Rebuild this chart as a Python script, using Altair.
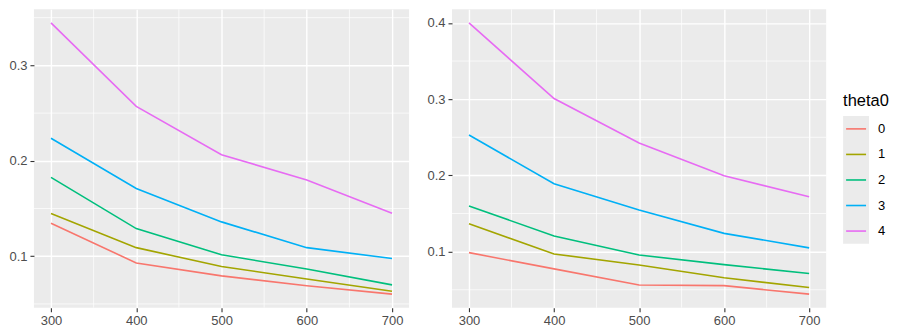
import altair as alt
import pandas as pd

n_values = [300, 400, 500, 600, 700]
theta0_levels = ["0", "1", "2", "3", "4"]
colors = ["#F8766D", "#A3A500", "#00BF7D", "#00B0F6", "#E76BF3"]

# left panel
left_0 = [0.1345, 0.0930, 0.0794, 0.0690, 0.0603]
left_1 = [0.1447, 0.1090, 0.0892, 0.0762, 0.0633]
left_2 = [0.1826, 0.1290, 0.1015, 0.0866, 0.0700]
left_3 = [0.2237, 0.1710, 0.1360, 0.1090, 0.0976]
left_4 = [0.3445, 0.2570, 0.2063, 0.1800, 0.1450]

# right panel
right_0 = [0.0987, 0.0774, 0.0562, 0.0554, 0.0443]
right_1 = [0.1365, 0.0970, 0.0826, 0.0657, 0.0530]
right_2 = [0.1600, 0.1204, 0.0957, 0.0830, 0.0713]
right_3 = [0.2530, 0.1890, 0.1547, 0.1240, 0.1050]
right_4 = [0.4000, 0.3008, 0.2426, 0.1996, 0.1720]

x_major = [300, 400, 500, 600, 700]
x_minor = [350, 450, 550, 650]
left_y_major = [0.1, 0.2, 0.3]
left_y_minor = [0.05, 0.15, 0.25, 0.35]
right_y_major = [0.1, 0.2, 0.3, 0.4]
right_y_minor = [0.05, 0.15, 0.25, 0.35]

FONT = "Liberation Sans"
PANEL_H = 299


def long_df(series):
    rows = []
    for lvl, vals in zip(theta0_levels, series):
        for n, v in zip(n_values, vals):
            rows.append({"n": n, "value": v, "theta0": lvl})
    return pd.DataFrame(rows)


def panel(series, y_major, y_minor, width):
    df = long_df(series)
    vals = [v for s in series for v in s]
    lo, hi = min(vals), max(vals)
    pad = (hi - lo) * 0.05
    yscale = alt.Scale(domain=[lo - pad, hi + pad], nice=False, zero=False)
    xscale = alt.Scale(domain=[280, 720], nice=False, zero=False)
    xaxis = alt.Axis(values=x_major, title=None, grid=True, gridColor="white",
                     gridWidth=1.4, domain=False, tickColor="#333333", tickSize=4,
                     tickWidth=1.1, labelColor="#4D4D4D", labelFont=FONT,
                     labelFontSize=13, labelPadding=3, format="d")
    yaxis = alt.Axis(values=y_major, title=None, grid=True, gridColor="white",
                     gridWidth=1.4, domain=False, tickColor="#333333", tickSize=4,
                     tickWidth=1.1, labelColor="#4D4D4D", labelFont=FONT,
                     labelFontSize=13, labelPadding=3, format=".1f",
                     minExtent=26, maxExtent=26)
    xminor = alt.Chart(pd.DataFrame({"n": x_minor})).mark_rule(
        color="white", strokeWidth=0.7).encode(
        x=alt.X("n:Q", scale=xscale, axis=xaxis))
    yminor = alt.Chart(pd.DataFrame({"value": y_minor})).mark_rule(
        color="white", strokeWidth=0.7).encode(
        y=alt.Y("value:Q", scale=yscale, axis=yaxis))
    lines = alt.Chart(df).mark_line(strokeWidth=1.6, clip=True).encode(
        x=alt.X("n:Q", scale=xscale, axis=xaxis),
        y=alt.Y("value:Q", scale=yscale, axis=yaxis),
        color=alt.Color("theta0:N", scale=alt.Scale(domain=theta0_levels, range=colors),
                        legend=None),
        detail="theta0:N",
    )
    return alt.layer(xminor, yminor, lines).properties(
        width=width, height=PANEL_H,
        view=alt.ViewBackground(fill="#EBEBEB", stroke=None))


left = panel([left_0, left_1, left_2, left_3, left_4], left_y_major, left_y_minor, 376)
right = panel([right_0, right_1, right_2, right_3, right_4], right_y_major, right_y_minor, 375)

# legend
leg_df = pd.DataFrame({"theta0": theta0_levels})
leg_y = alt.Y("theta0:N", scale=alt.Scale(type="point", domain=theta0_levels,
                                          range=[119.8, 222.2], padding=0), axis=None)
leg_color = alt.Color("theta0:N", scale=alt.Scale(domain=theta0_levels, range=colors),
                      legend=None)
leg_bg = alt.Chart(pd.DataFrame({"k": [1]})).mark_rect(color="#EBEBEB").encode(
    x=alt.value(0), x2=alt.value(26), y=alt.value(107), y2=alt.value(235))
leg_title = alt.Chart(pd.DataFrame({"t": ["theta0"]})).mark_text(
    font=FONT, fontSize=16.5, align="left", baseline="alphabetic", color="black").encode(
    x=alt.value(0), y=alt.value(97), text="t:N")
leg_keys = alt.Chart(leg_df).mark_rule(strokeWidth=1.6).encode(
    x=alt.value(3), x2=alt.value(23), y=leg_y, color=leg_color)
leg_labels = alt.Chart(leg_df).mark_text(
    font=FONT, fontSize=13, align="left", baseline="middle", color="black").encode(
    x=alt.value(35), y=leg_y, text="theta0:N")
legend = alt.layer(leg_bg, leg_title, leg_keys, leg_labels).properties(
    width=46, height=PANEL_H,
    view=alt.ViewBackground(fill="white", stroke=None))

chart = alt.hconcat(left, right, legend, spacing=16).resolve_scale(
    color="shared").configure(padding=0, background="white").configure_view(
    stroke=None)

chart.save("out.html", embed_options={"renderer": "svg", "actions": False})
